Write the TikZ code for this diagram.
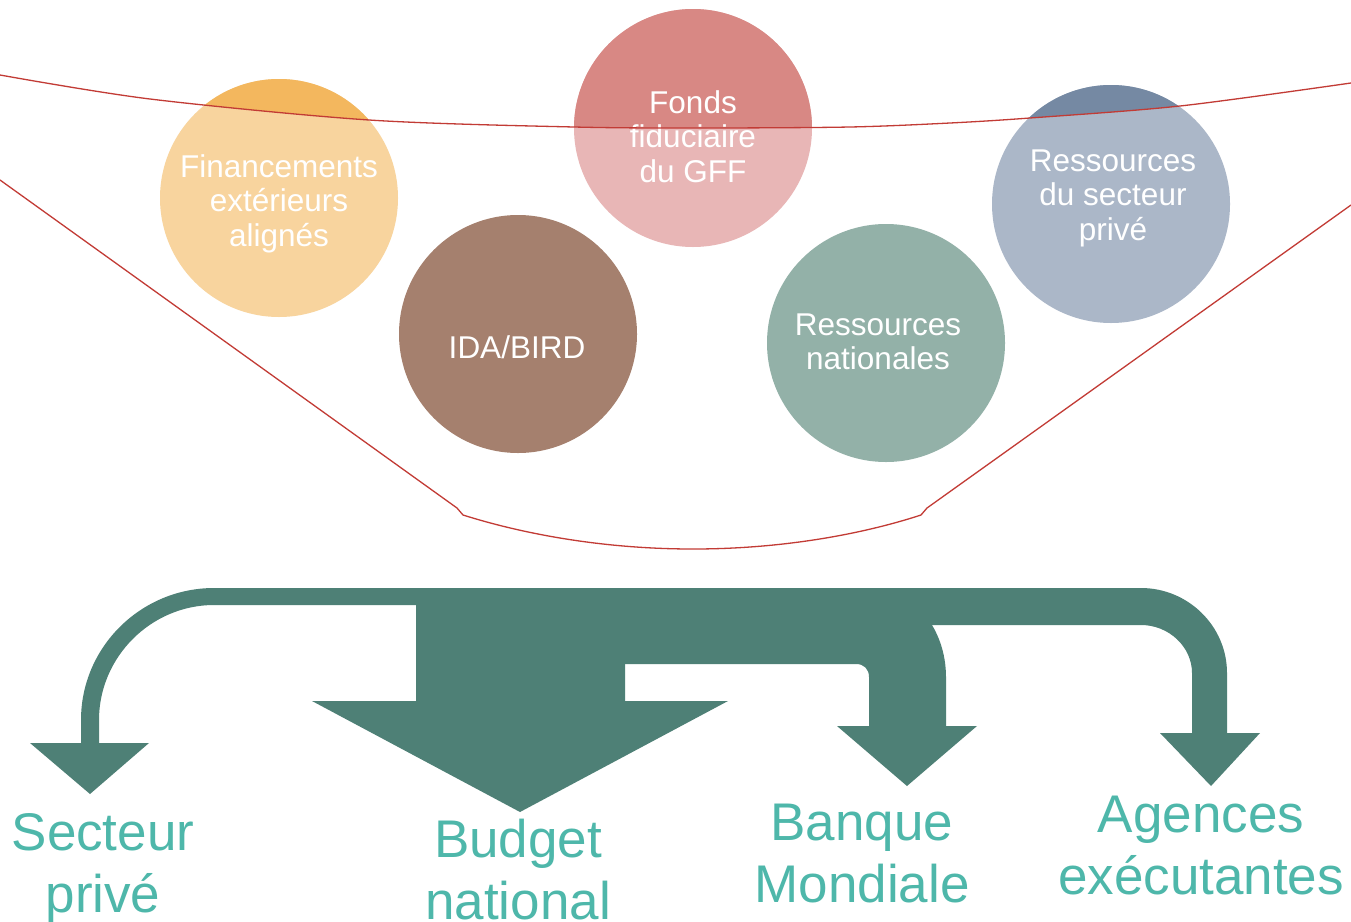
\documentclass[tikz,border=0pt]{standalone}
\usepackage{fontspec}
\setmainfont{Liberation Sans}
\definecolor{finL}{HTML}{F8D49E}
\definecolor{finD}{HTML}{F3B75E}
\definecolor{fonL}{HTML}{E8B6B6}
\definecolor{fonD}{HTML}{D88884}
\definecolor{idaC}{HTML}{A5806E}
\definecolor{natC}{HTML}{93B1A8}
\definecolor{priL}{HTML}{ABB7C8}
\definecolor{priD}{HTML}{7589A3}
\definecolor{flowc}{HTML}{4E8076}
\definecolor{labelc}{HTML}{4EB7AA}
\definecolor{redc}{HTML}{C23B35}
\begin{document}
\begin{tikzpicture}[x=1pt,y=-1pt,
  bubble/.style={circle, inner sep=0pt, outer sep=0pt, minimum size=238pt},
  bubtext/.style={text=white, align=center, inner sep=0pt, anchor=base, font=\fontsize{31.5}{34.5}\selectfont},
  dest/.style={text=labelc, align=center, inner sep=0pt, anchor=base, font=\fontsize{53}{62.5}\selectfont},
  redline/.style={draw=redc, line width=1.3pt},
  flow/.style={fill=flowc}]
\useasboundingbox (0,0) rectangle (1351,921);
\fill[white] (0,0) rectangle (1351,921);

% circles
\node[bubble, fill=finL] (fin) at (279,198) {};
\node[bubble, fill=fonL] (fon) at (693,128) {};
\node[bubble, fill=idaC] (ida) at (518,334) {};
\node[bubble, fill=natC] (nat) at (886,343) {};
\node[bubble, fill=priL] (pri) at (1111,204) {};

% darker tops above the rim
\begin{scope}
\clip plot[smooth] coordinates {(0,75) (150,99) (369,120) (574,127) (700,128) (850,127) (950,123) (1030,118) (1180,106) (1351,83)} -- (1351,-5) -- (0,-5) -- cycle;
\fill[finD] (fin.center) circle[radius=119pt];
\fill[fonD] (fon.center) circle[radius=119pt];
\fill[priD] (pri.center) circle[radius=119pt];
\end{scope}

% texts in circles (anchor base = last line's baseline)
\node[bubtext] (tfin) at (279,246) {Financements\\extérieurs\\alignés};
\node[bubtext] (tfon) at (693,182) {Fonds\\fiduciaire\\du GFF};
\node[bubtext] (tida) at (517,358) {IDA/BIRD};
\node[bubtext] (tnat) at (878,369.5) {Ressources\\nationales};
\node[bubtext] (tpri) at (1113,240) {Ressources\\du secteur\\privé};

% funnel
\draw[redline] plot[smooth] coordinates {(0,75) (150,99) (369,120) (574,127) (700,128) (850,127) (950,123) (1030,118) (1180,106) (1351,83)};
\draw[redline] (0,180) -- (457,508) -- (463,515) .. controls (520,533) and (600,549) .. (693,549) .. controls (786,549) and (866,533) .. (921,515) -- (927,508) -- (1351,205);

% flow arrows
\fill[flow] (573,588) -- (214,588) .. controls (141,588) and (81,647) .. (81,720) -- (81,743) -- (30,743) -- (90,794) -- (149,743) -- (99,743) -- (99,720) .. controls (99,657) and (151,605) .. (214,605) -- (573,605) -- cycle;
\fill[flow] (416,588) -- (625,588) -- (625,701) -- (728,701) -- (520,812) -- (312,701) -- (416,701) -- cycle;
\fill[flow] (573,588) -- (870,588) .. controls (915,588) and (946,630) .. (946,677) -- (946,726) -- (977,726) -- (907,786) -- (837,726) -- (869,726) -- (869,677) .. controls (869,669) and (864,664) .. (856,664) -- (573,664) -- cycle;
\fill[flow] (860,588) -- (1141,588) .. controls (1188,588) and (1227,626) .. (1227,673) -- (1227,733) -- (1260,733) -- (1211,786) -- (1160,733) -- (1192,733) -- (1192,673) .. controls (1192,647) and (1169,625) .. (1141,625) -- (860,625) -- cycle;

% destinations (anchor base = last line's baseline)
\node[dest] (sec) at (103,912.5) {Secteur\\privé};
\node[dest] (bud) at (518,919.5) {Budget\\national};
\node[dest] (bm) at (862,902.5) {Banque\\Mondiale};
\node[dest] (age) at (1201,894.5) {Agences\\exécutantes};
\end{tikzpicture}
\end{document}
